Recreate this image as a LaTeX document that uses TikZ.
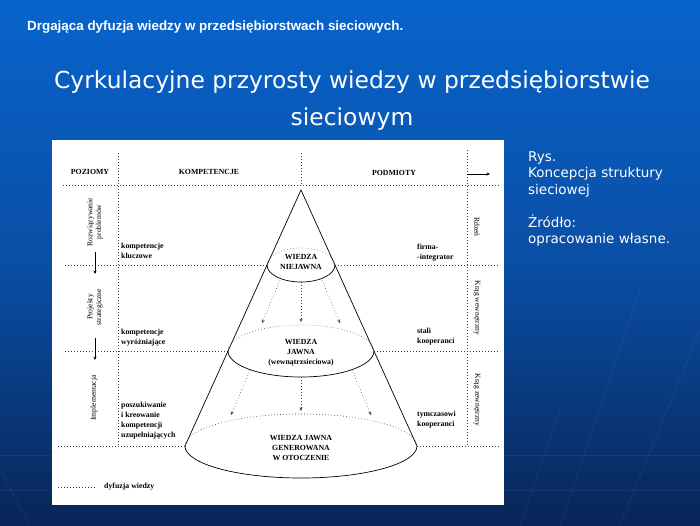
\documentclass[tikz,border=0pt]{standalone}
\usepackage{fontspec}
\setmainfont{Liberation Serif}
\newfontfamily\tnr{Liberation Serif}
\newfontfamily\hdr{Liberation Sans}
\newfontfamily\vrd{DejaVu Sans}
\usetikzlibrary{arrows.meta}
\definecolor{bgtop}{RGB}{8,100,204}
\definecolor{bgmid}{RGB}{10,78,165}
\definecolor{bgbot}{RGB}{8,38,88}
\tikzset{
  lbl/.style={font=\tnr\bfseries\fontsize{7.8}{9.8}\selectfont, inner sep=0pt, text=black},
  rlbl/.style={font=\tnr\fontsize{7.6}{8.8}\selectfont, inner sep=0pt, text=black},
  dotln/.style={draw=black!75, line width=0.6pt, dash pattern=on 0.6pt off 2.4pt},
  dotarr/.style={dotln, -{Stealth[length=3.5pt,width=3pt]}},
  solarr/.style={draw=black, line width=0.6pt, -{Stealth[length=3.5pt,width=3pt]}},
  conel/.style={draw=black, line width=0.7pt},
  slidetxt/.style={text=white, inner sep=0pt},
}
\begin{document}
\begin{tikzpicture}[x=1pt,y=-1pt]
\useasboundingbox (0,0) rectangle (700,525);
% background
\shade[top color=bgtop, bottom color=bgbot, middle color=bgmid] (0,0) rectangle (700,525);
% faint texture lines
\begin{scope}[draw=white, opacity=0.06, line width=0.8pt]
  \draw (0,455) -- (700,455);
  \draw (0,490) -- (700,490);
  \draw (560,525) -- (640,290);
  \draw (620,525) -- (700,330);
  \draw (30,525) -- (0,470);
  \draw (520,525) -- (560,410);
\end{scope}
% header texts
\node[slidetxt, anchor=west, font=\hdr\bfseries\fontsize{13.4}{16}\selectfont] (hd) at (27,27) {Drgająca dyfuzja wiedzy w przedsiębiorstwach sieciowych.};
\node[slidetxt, align=center, font=\vrd\fontsize{23.4}{37}\selectfont] (title) at (352,101) {Cyrkulacyjne przyrosty wiedzy w przedsiębiorstwie\\sieciowym};
\node[slidetxt, anchor=north west, align=left, font=\vrd\fontsize{13.5}{16.5}\selectfont] (cap) at (528,151) {Rys.\\Koncepcja struktury\\sieciowej\\[16.5pt]Źródło:\\opracowanie własne.};
% white panel
\fill[white] (52,140) rectangle (504,505);
% coordinates
\coordinate (h1a) at (63,185);  \coordinate (h1b) at (500,185);
\coordinate (h2a) at (65,265);  \coordinate (h2b) at (500,265);
\coordinate (h3a) at (65,351);  \coordinate (h3b) at (500,351);
\coordinate (h4a) at (58,446);  \coordinate (h4b) at (500,446);
\coordinate (v1a) at (118,153); \coordinate (v1b) at (118,446);
\coordinate (v2a) at (301,153); \coordinate (v2b) at (301,185);
\coordinate (v3a) at (467,150); \coordinate (v3b) at (467,446);
\coordinate (apex) at (301,190);
\coordinate (e1l) at (267,265); \coordinate (e1r) at (335,265);
\coordinate (e2l) at (228,351); \coordinate (e2r) at (374,351);
\coordinate (bl) at (185,446);  \coordinate (br) at (417,446);
% grid lines
\draw[dotln] (h1a) -- (h1b);
\draw[dotln] (h2a) -- (e1l) (e1r) -- (h2b);
\draw[dotln] (h3a) -- (e2l) (e2r) -- (h3b);
\draw[dotln] (h4a) -- (bl) (br) -- (h4b);
\draw[dotln] (v1a) -- (v1b);
\draw[dotln] (v2a) -- (v2b);
\draw[dotln] (v3a) -- (v3b);
% cone
\draw[conel] (bl) -- (apex) -- (br);
\draw[conel] (e1l) arc[start angle=180, end angle=0, x radius=34, y radius=17];
\draw[dotln] (e1l) arc[start angle=180, end angle=360, x radius=34, y radius=17];
\draw[conel] (e2l) arc[start angle=180, end angle=0, x radius=73, y radius=26];
\draw[dotln] (e2l) arc[start angle=180, end angle=360, x radius=73, y radius=26];
\draw[conel] (bl) arc[start angle=180, end angle=0, x radius=116, y radius=32];
\draw[dotln] (bl) arc[start angle=180, end angle=360, x radius=116, y radius=32];
% diffusion arrows
\coordinate (a1s) at (280,280); \coordinate (a1e) at (262,323);
\coordinate (a2s) at (301,282); \coordinate (a2e) at (301,322);
\coordinate (a3s) at (322,280); \coordinate (a3e) at (340,323);
\coordinate (b1s) at (250,370); \coordinate (b1e) at (231,415);
\coordinate (b2s) at (301,377); \coordinate (b2e) at (301,411);
\coordinate (b3s) at (352,370); \coordinate (b3e) at (371,415);
\draw[dotarr] (a1s) -- (a1e);
\draw[dotarr] (a2s) -- (a2e);
\draw[dotarr] (a3s) -- (a3e);
\draw[dotarr] (b1s) -- (b1e);
\draw[dotarr] (b2s) -- (b2e);
\draw[dotarr] (b3s) -- (b3e);
% ellipse texts
\node[lbl, align=center] (wn) at (301,262) {WIEDZA\\NIEJAWNA};
\node[lbl, align=center] (wj) at (301,353) {WIEDZA\\JAWNA\\(wewnątrzsieciowa)};
\node[lbl, align=center] (wg) at (301,448) {WIEDZA JAWNA\\GENEROWANA\\W OTOCZENIE};
% column headers
\node[lbl] (poz) at (90,172) {POZIOMY};
\node[lbl] (kom) at (209,172) {KOMPETENCJE};
\node[lbl] (pod) at (394,173) {PODMIOTY};
\coordinate (tas) at (467,174); \coordinate (tae) at (490,174);
\draw[solarr] (tas) -- (tae);
% left rotated labels
\node[rlbl, rotate=90, align=center] (rozw) at (95,222) {Rozwiązywanie\\problemów};
\node[rlbl, rotate=90, align=center] (proj) at (95,307) {Projekty\\strategiczne};
\node[rlbl, rotate=90] (impl) at (94,398) {Implementacja};
\coordinate (l1s) at (95,252); \coordinate (l1e) at (95,274);
\coordinate (l2s) at (95,338); \coordinate (l2e) at (95,360);
\draw[solarr] (l1s) -- (l1e);
\draw[solarr] (l2s) -- (l2e);
% right rotated labels
\node[rlbl, rotate=-90] (rdz) at (477,227) {Rdzeń};
\node[rlbl, rotate=-90] (kw) at (477,308) {Krąg wewnętrzny};
\node[rlbl, rotate=-90] (kz) at (477,400) {Krąg zewnętrzny};
% competences
\node[lbl, align=left, anchor=west] (kk) at (121,251) {kompetencje\\kluczowe};
\node[lbl, align=left, anchor=west] (kwy) at (121,337.5) {kompetencje\\wyróżniające};
\node[lbl, align=left, anchor=west] (kuz) at (121,420.5) {poszukiwanie\\i kreowanie\\kompetencji\\uzupełniających};
% subjects
\node[lbl, align=left, anchor=west] (fi) at (417,253) {firma-\\-integrator};
\node[lbl, align=left, anchor=west] (sk) at (417,337) {stali\\kooperanci};
\node[lbl, align=left, anchor=west] (tk) at (417,420) {tymczasowi\\kooperanci};
% legend
\coordinate (lga) at (58,487); \coordinate (lgb) at (97,487);
\draw[dotln] (lga) -- (lgb);
\node[lbl, anchor=west] (lg) at (104,487) {dyfuzja wiedzy};
\end{tikzpicture}
\end{document}
